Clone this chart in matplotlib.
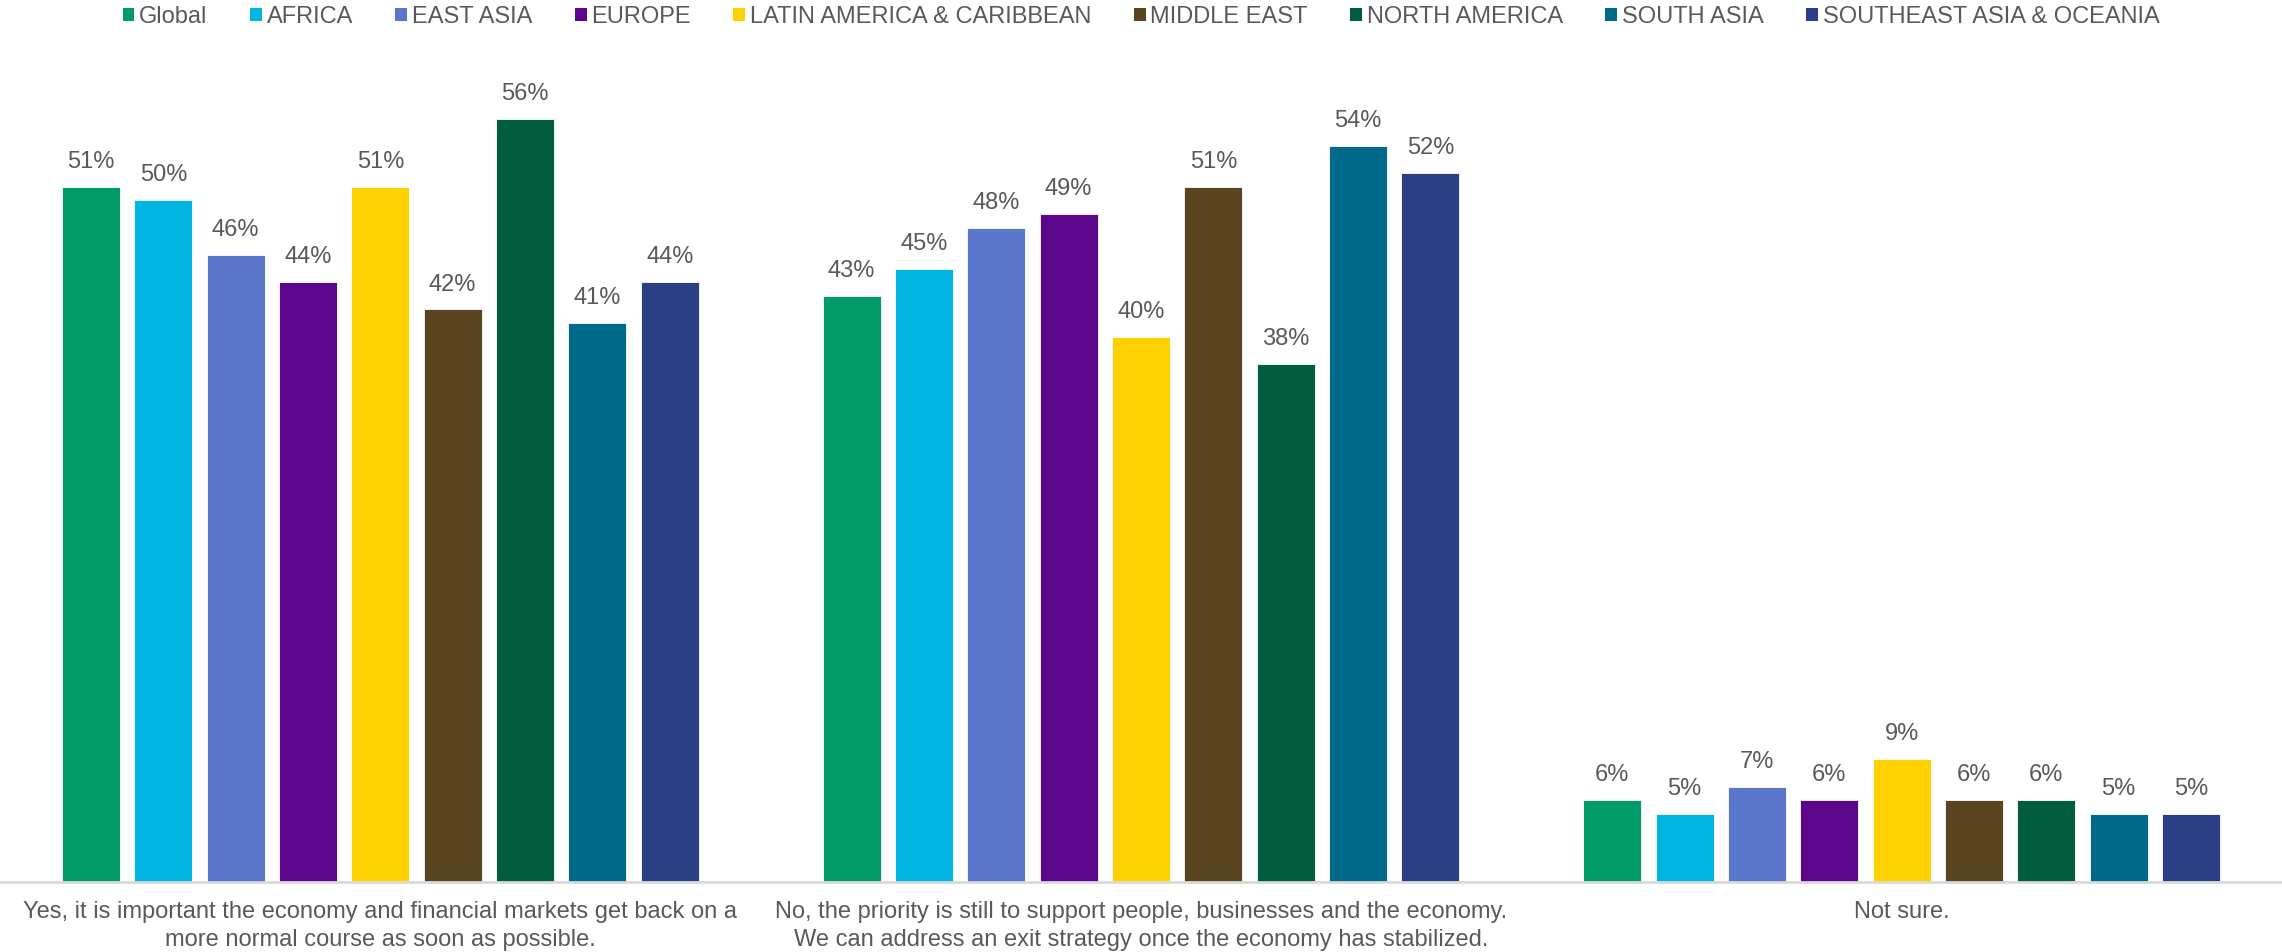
import matplotlib
matplotlib.use("Agg")
import matplotlib.pyplot as plt
from matplotlib.patches import Patch
import numpy as np

plt.rcParams['font.family'] = ['Liberation Sans', 'DejaVu Sans']

categories = [
    "Yes, it is important the economy and financial markets get back on a\nmore normal course as soon as possible.",
    "No, the priority is still to support people, businesses and the economy.\nWe can address an exit strategy once the economy has stabilized.",
    "Not sure.",
]
regions = ["Global", "AFRICA", "EAST ASIA", "EUROPE", "LATIN AMERICA & CARIBBEAN",
           "MIDDLE EAST", "NORTH AMERICA", "SOUTH ASIA", "SOUTHEAST ASIA & OCEANIA"]
colors = ["#009B67", "#00B5E2", "#5B77CC", "#5C068C", "#FFD100",
          "#5B4520", "#005E3F", "#006A8A", "#2A3F86"]

global_vals = [51, 43, 6]
africa = [50, 45, 5]
east_asia = [46, 48, 7]
europe = [44, 49, 6]
latam = [51, 40, 9]
middle_east = [42, 51, 6]
north_america = [56, 38, 6]
south_asia = [41, 54, 5]
se_asia = [44, 52, 5]
series = [global_vals, africa, east_asia, europe, latam, middle_east,
          north_america, south_asia, se_asia]

fig = plt.figure(figsize=(22.82, 9.52), dpi=100)
ax = fig.add_axes([0.0, 1 - 882 / 952, 1.0, (882 - 64) / 952])

x = np.arange(len(categories))
slot = 0.0951
width = 0.0760
text_color = "#595959"
fs = 17
for i, (vals, c) in enumerate(zip(series, colors)):
    pos = x + (i - 4) * slot
    bars = ax.bar(pos, vals, width=width, color=c, edgecolor="white", linewidth=0.6)
    for b, v in zip(bars, vals):
        ax.annotate(f"{v}%", (b.get_x() + b.get_width() / 2, v),
                    xytext=(0, 10), textcoords="offset points",
                    ha="center", va="bottom", fontsize=fs, color=text_color)

ax.set_xlim(-0.5, 2.5)
ax.set_ylim(0, 60)
ax.set_yticks([])
ax.set_xticks(x)
ax.set_xticklabels(categories, fontsize=fs, color=text_color, linespacing=1.3)
ax.tick_params(axis="x", length=0, pad=14)
for s in ["top", "right", "left"]:
    ax.spines[s].set_visible(False)
ax.spines["bottom"].set_color("#D9D9D9")
ax.spines["bottom"].set_linewidth(2)

handles = [Patch(facecolor=c, edgecolor="none") for c in colors]
fig.legend(handles, regions, loc="center", bbox_to_anchor=(0.5, 1 - 17 / 952),
           ncol=9, frameon=False, fontsize=fs, handlelength=0.5, handleheight=0.5,
           handletextpad=0.2, columnspacing=1.8, labelcolor=text_color)

fig.savefig("out.png", dpi=100)
